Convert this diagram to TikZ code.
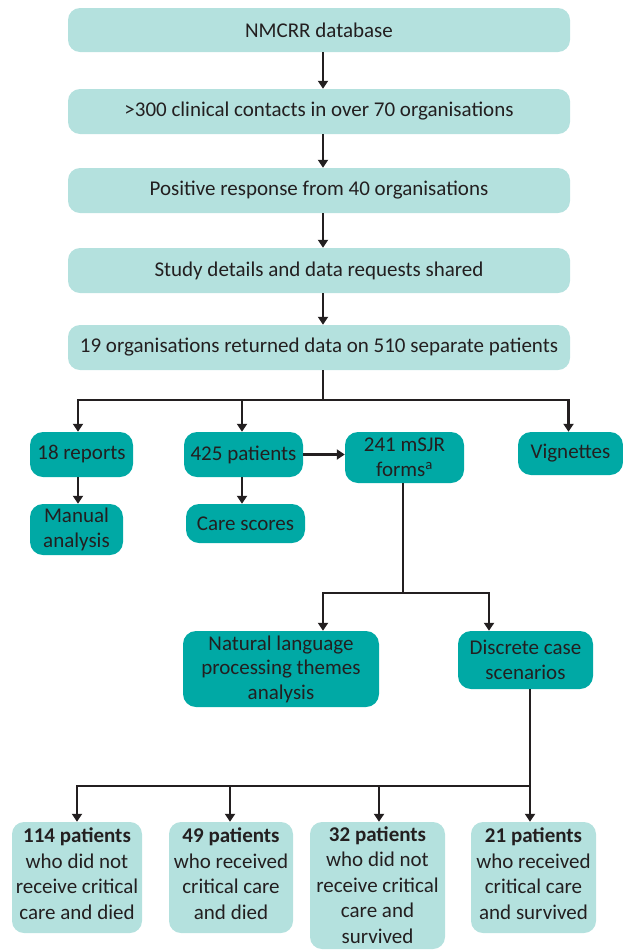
\documentclass[tikz,border=0pt]{standalone}
\usepackage{fontspec}
\setmainfont{Carlito}
\usetikzlibrary{arrows.meta,calc}
\definecolor{lightteal}{HTML}{B4E1DE}
\definecolor{darkteal}{HTML}{00A9A5}
\definecolor{ink}{HTML}{231F20}
\begin{document}
\begin{tikzpicture}[x=1pt,y=-1pt,
  every node/.style={font=\fontsize{21}{25.5}\selectfont, text=ink, inner sep=1pt, align=center},
  lightbox/.style={fill=lightteal, rounded corners=12pt, minimum width=#1},
  darkbox/.style={fill=darkteal, rounded corners=13pt, minimum width=#1},
  conn/.style={draw=ink, line width=2.3pt, -{Triangle[width=10pt,length=8pt]}},
  plain/.style={draw=ink, line width=2.3pt}]
\useasboundingbox (0,0) rectangle (623,951);
% top column
\node[lightbox=502, minimum height=44] (b1) at (319,30) {NMCRR database};
\node[lightbox=502, minimum height=45] (b2) at (319,111.5) {>300 clinical contacts in over 70 organisations};
\node[lightbox=502, minimum height=45] (b3) at (319,190.5) {Positive response from 40 organisations};
\node[lightbox=502, minimum height=45] (b4) at (319,270.5) {Study details and data requests shared};
\node[lightbox=502, minimum height=45] (b5) at (319,347.5) {19 organisations returned data on 510 separate patients};
\coordinate (t) at (323,0);
\draw[conn] (b1.south -| t) -- (b2.north -| t);
\draw[conn] (b2.south -| t) -- (b3.north -| t);
\draw[conn] (b3.south -| t) -- (b4.north -| t);
\draw[conn] (b4.south -| t) -- (b5.north -| t);
% second row
\node[darkbox=103, minimum height=45] (r1) at (81.5,454.5) {18 reports};
\node[darkbox=119, minimum height=45] (r2) at (243.5,454.5) {425 patients};
\node[darkbox=119, minimum height=51] (r3) at (404.5,457.5) {241 mSJR\\forms\textsuperscript{a}};
\node[darkbox=105, minimum height=43] (r4) at (570.5,453.5) {Vignettes};
\coordinate (bus) at (323,400);
\coordinate (xa) at (78,0);
\coordinate (xb) at (242,0);
\coordinate (xd) at (568.5,0);
\draw[plain] (b5.south -| t) -- (bus);
\draw[conn] (bus) -| (r1.north -| xa);
\draw[conn] (bus) -| (r2.north -| xb);
\draw[conn] (bus) -| (r4.north -| xd);
\draw[conn] (r2.east) -- (r3.west |- r2.east);
% third row
\node[darkbox=93, minimum height=51] (m1) at (76.5,529.5) {Manual\\[-1pt]analysis};
\node[darkbox=119, minimum height=39] (m2) at (245.5,523.5) {Care scores};
\draw[conn] (r1.south -| xa) -- (m1.north -| xa);
\draw[conn] (r2.south -| xb) -- (m2.north -| xb);
% NLP and discrete
\node[darkbox=196, minimum height=76] (n1) at (281,669) {Natural language\\[-1pt]processing themes\\[-1pt]analysis};
\node[darkbox=135, minimum height=58] (n2) at (525.5,660) {Discrete case\\[-1pt]scenarios};
\coordinate (x3) at (403,0);
\coordinate (bus2) at (403,593);
\coordinate (xn1) at (323,0);
\coordinate (xn2) at (489,0);
\draw[plain] (r3.south -| x3) -- (bus2);
\draw[conn] (bus2) -| (n1.north -| xn1);
\draw[conn] (bus2) -| (n2.north -| xn2);
% bottom row
\node[lightbox=130, minimum height=111] (p1) at (77,877.5) {};
\node (p1t) at (77,873.5) {\textbf{114 patients}\\who did not\\receive critical\\care and died};
\node[lightbox=124, minimum height=111] (p2) at (231,877.5) {};
\node (p2t) at (231,873.5) {\textbf{49 patients}\\who received\\critical care\\and died};
\node[lightbox=135, minimum height=127] (p3) at (377.5,885.5) {};
\node (p3t) at (377.5,885) {\textbf{32 patients}\\who did not\\receive critical\\care and\\survived};
\node[lightbox=125, minimum height=111] (p4) at (533.5,877.5) {};
\node (p4t) at (533.5,873.5) {\textbf{21 patients}\\who received\\critical care\\and survived};
\coordinate (xs) at (530,0);
\coordinate (bus3) at (530,786);
\coordinate (xp1) at (77,0);
\coordinate (xp2) at (230,0);
\coordinate (xp3) at (379,0);
\draw[plain] (n2.south -| xs) -- (bus3);
\draw[conn] (bus3) -- (p4.north -| xs);
\draw[conn] (bus3) -| (p1.north -| xp1);
\draw[conn] (bus3) -| (p2.north -| xp2);
\draw[conn] (bus3) -| (p3.north -| xp3);
\end{tikzpicture}
\end{document}
